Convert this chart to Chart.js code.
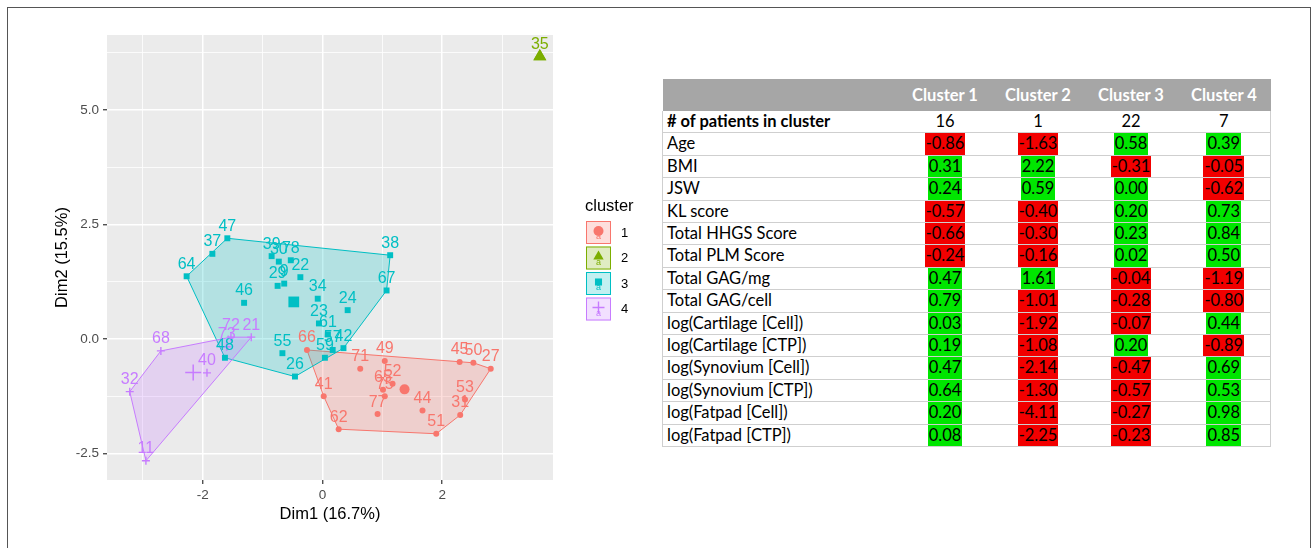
<!DOCTYPE html>
<html>
<head>
<meta charset="utf-8">
<script src="https://cdn.jsdelivr.net/npm/chart.js@4.4.1/dist/chart.umd.min.js"></script>
<style>
    body { margin: 0; background: #fff; width: 1315px; height: 548px; overflow: hidden; position: relative; }
    #frame { position: absolute; left: 7px; top: 7px; width: 1304px; height: 560px; border: 1px solid #555; box-sizing: border-box; }
    #plot { position: absolute; left: 0; top: 0; }
    #tbl { position: absolute; left: 662px; top: 79px; width: 608px; border-collapse: collapse; table-layout: fixed;
           font-family: Lato, 'Open Sans', sans-serif; font-size: 16.5px; color: #000; }
    #tbl th { background: #a6a6a6; color: #fff; font-weight: bold; height: 32px; padding: 0; text-align: center; }
    #tbl td { height: 21.4px; line-height: 21.4px; padding: 0; border-bottom: 1px solid #cfcfcf; text-align: center; white-space: nowrap; }
    #tbl td.name { text-align: left; padding-left: 4px; border-left: 1px solid #cfcfcf; }
    #tbl td.last { border-right: 1px solid #cfcfcf; }
    #tbl span { display: inline-block; line-height: 21.4px; padding: 0 1px; vertical-align: top; }
    #tbl span.neg { background: #f20000; }
    #tbl span.pos { background: #00e600; }
</style>
</head>
<body>
<div id="frame"></div>
<canvas id="plot" width="660" height="548"></canvas>
<table id="tbl"></table>
<script>
// clusters
var clusterNames = ['1', '2', '3', '4'];
var clusterColors = ['#F8766D', '#7CAE00', '#00BFC4', '#C77CFF'];
var clusterShapes = ['circle', 'triangle', 'rect', 'cross'];

// cluster 1
var ids1 = ['66', '71', '49', '45', '50', '27', '52', '65', '75', '77', '44', '51', '31', '53', '41', '62'];
var x1 = [-0.26, 0.63, 1.04, 2.29, 2.52, 2.81, 1.17, 1.01, 1.04, 0.92, 1.67, 1.90, 2.30, 2.38, 0.02, 0.27];
var y1 = [-0.24, -0.65, -0.48, -0.50, -0.52, -0.65, -0.98, -1.11, -1.25, -1.64, -1.56, -2.07, -1.66, -1.32, -1.25, -1.97];
// cluster 2
var ids2 = ['35'];
var x2 = [3.63];
var y2 = [6.17];
// cluster 3
var ids3 = ['47', '37', '64', '46', '39', '30', '78', '22', '29', '9', '34', '24', '23', '61', '42', '57', '59', '55', '26', '38', '67', '48'];
var x3 = [-1.59, -1.84, -2.27, -1.31, -0.85, -0.73, -0.53, -0.37, -0.75, -0.64, -0.08, 0.42, -0.06, 0.09, 0.35, 0.17, 0.04, -0.67, -0.46, 1.13, 1.07, -1.63];
var y3 = [2.20, 1.86, 1.37, 0.79, 1.81, 1.69, 1.72, 1.35, 1.16, 1.21, 0.88, 0.63, 0.34, 0.10, -0.20, -0.24, -0.41, -0.31, -0.82, 1.83, 1.06, -0.41];
// cluster 4
var ids4 = ['68', '32', '11', '40', '21', '72', '73'];
var x4 = [-2.70, -3.22, -2.95, -1.93, -1.19, -1.53, -1.60];
var y4 = [-0.26, -1.15, -2.66, -0.74, 0.04, 0.04, -0.17];

// cluster centers
var centerX = [1.37, 3.63, -0.48, -2.16];
var centerY = [-1.10, 6.17, 0.81, -0.73];

// axes
var xTicks = [-3, -2, -1, 0, 1, 2, 3];
var xTickLabels = ['', '-2', '', '0', '', '2', ''];
var yTicks = [-2.5, -1.25, 0, 1.25, 2.5, 3.75, 5, 6.25];
var yTickLabels = ['-2.5', '', '0.0', '', '2.5', '', '5.0', ''];

// table
var colNames = ['Cluster 1', 'Cluster 2', 'Cluster 3', 'Cluster 4'];
var patientCounts = [16, 1, 22, 7];
var rowNames = ['Age', 'BMI', 'JSW', 'KL score', 'Total HHGS Score', 'Total PLM Score', 'Total GAG/mg', 'Total GAG/cell',
    'log(Cartilage [Cell])', 'log(Cartilage [CTP])', 'log(Synovium [Cell])', 'log(Synovium [CTP])', 'log(Fatpad [Cell])', 'log(Fatpad [CTP])'];
var cl1 = [-0.86, 0.31, 0.24, -0.57, -0.66, -0.24, 0.47, 0.79, 0.03, 0.19, 0.47, 0.64, 0.20, 0.08];
var cl2 = [-1.63, 2.22, 0.59, -0.40, -0.30, -0.16, 1.61, -1.01, -1.92, -1.08, -2.14, -1.30, -4.11, -2.25];
var cl3 = [0.58, -0.31, 0.00, 0.20, 0.23, 0.02, -0.04, -0.28, -0.07, 0.20, -0.47, -0.57, -0.27, -0.23];
var cl4 = [0.39, -0.05, -0.62, 0.73, 0.84, 0.50, -1.19, -0.80, 0.44, -0.89, 0.69, 0.53, 0.98, 0.85];

var allIds = [ids1, ids2, ids3, ids4];
var allX = [x1, x2, x3, x4];
var allY = [y1, y2, y3, y4];
var pointSize = [3, 7.5, 4.2, 4];
var centerSize = [5, 7.5, 7.6, 8];

function alpha(hex, a) {
    var r = parseInt(hex.substr(1, 2), 16), g = parseInt(hex.substr(3, 2), 16), b = parseInt(hex.substr(5, 2), 16);
    return 'rgba(' + r + ',' + g + ',' + b + ',' + a + ')';
}

function hull(pts) {
    pts = pts.slice().sort(function (a, b) { return a.x - b.x || a.y - b.y; });
    function cross(o, a, b) { return (a.x - o.x) * (b.y - o.y) - (a.y - o.y) * (b.x - o.x); }
    var lower = [], upper = [];
    pts.forEach(function (p) {
        while (lower.length >= 2 && cross(lower[lower.length - 2], lower[lower.length - 1], p) <= 0) lower.pop();
        lower.push(p);
    });
    for (var i = pts.length - 1; i >= 0; i--) {
        var p = pts[i];
        while (upper.length >= 2 && cross(upper[upper.length - 2], upper[upper.length - 1], p) <= 0) upper.pop();
        upper.push(p);
    }
    upper.pop(); lower.pop();
    return lower.concat(upper);
}

var datasets = [];
clusterNames.forEach(function (name, c) {
    var data = allX[c].map(function (v, i) { return { x: v, y: allY[c][i] }; });
    datasets.push({
        label: name,
        data: data,
        pointStyle: clusterShapes[c],
        pointRadius: pointSize[c],
        backgroundColor: clusterColors[c],
        borderColor: clusterColors[c],
        borderWidth: clusterShapes[c] === 'cross' ? 1.4 : 0
    });
});
clusterNames.forEach(function (name, c) {
    datasets.push({
        label: 'center ' + name,
        data: [{ x: centerX[c], y: centerY[c] }],
        pointStyle: clusterShapes[c],
        pointRadius: centerSize[c],
        backgroundColor: clusterColors[c],
        borderColor: clusterColors[c],
        borderWidth: clusterShapes[c] === 'cross' ? 1.5 : 0
    });
});

//! grey panel
var panelBg = {
    id: 'panelBg',
    beforeDraw: function (chart) {
        var a = chart.chartArea, ctx = chart.ctx;
        ctx.save();
        ctx.fillStyle = '#ebebeb';
        ctx.fillRect(a.left, a.top, a.right - a.left, a.bottom - a.top);
        ctx.restore();
    }
};

//! convex hull for each cluster
var hulls = {
    id: 'hulls',
    beforeDatasetsDraw: function (chart) {
        var ctx = chart.ctx, xs = chart.scales.x, ys = chart.scales.y;
        ctx.save();
        clusterNames.forEach(function (name, c) {
            if (allX[c].length < 3) return;
            var pts = allX[c].map(function (v, i) {
                return { x: xs.getPixelForValue(v), y: ys.getPixelForValue(allY[c][i]) };
            });
            var h = hull(pts);
            ctx.beginPath();
            h.forEach(function (p, i) { if (i === 0) ctx.moveTo(p.x, p.y); else ctx.lineTo(p.x, p.y); });
            ctx.closePath();
            ctx.fillStyle = alpha(clusterColors[c], 0.24);
            ctx.fill();
            ctx.strokeStyle = clusterColors[c];
            ctx.lineWidth = 1;
            ctx.stroke();
        });
        ctx.restore();
    }
};

//! point labels
var pointLabels = {
    id: 'pointLabels',
    afterDatasetsDraw: function (chart) {
        var ctx = chart.ctx, xs = chart.scales.x, ys = chart.scales.y;
        ctx.save();
        ctx.font = '16px "Liberation Sans", Arial, sans-serif';
        ctx.textAlign = 'center';
        ctx.textBaseline = 'alphabetic';
        clusterNames.forEach(function (name, c) {
            ctx.fillStyle = clusterColors[c];
            allIds[c].forEach(function (id, i) {
                ctx.fillText(id, xs.getPixelForValue(allX[c][i]), ys.getPixelForValue(allY[c][i]) - 7.5);
            });
        });
        ctx.restore();
    }
};

//! legend like ggplot
var ggLegend = {
    id: 'ggLegend',
    afterDraw: function (chart) {
        var ctx = chart.ctx, a = chart.chartArea;
        var left = a.right + 33, top = 221;
        ctx.save();
        ctx.fillStyle = '#000';
        ctx.font = '16.5px "Liberation Sans", Arial, sans-serif';
        ctx.textBaseline = 'middle';
        ctx.textAlign = 'left';
        ctx.fillText('cluster', left - 1, 206);
        clusterNames.forEach(function (name, c) {
            var y = top + c * 25.5;
            ctx.fillStyle = alpha(clusterColors[c], 0.24);
            ctx.fillRect(left, y, 25, 23);
            ctx.strokeStyle = clusterColors[c];
            ctx.lineWidth = 1;
            ctx.strokeRect(left + 0.5, y + 0.5, 24, 22);
            ctx.fillStyle = clusterColors[c];
            ctx.strokeStyle = clusterColors[c];
            ctx.lineWidth = 1.4;
            Chart.helpers.drawPoint(ctx, {
                pointStyle: clusterShapes[c], radius: c === 1 ? 6 : (c === 3 ? 6 : 5), rotation: 0,
                borderWidth: clusterShapes[c] === 'cross' ? 1.4 : 0
            }, left + 12.5, y + 10);
            ctx.font = '9px "Liberation Sans", Arial, sans-serif';
            ctx.textAlign = 'center';
            ctx.fillText('a', left + 12.5, y + 16);
            ctx.fillStyle = '#000';
            ctx.font = '13px "Liberation Sans", Arial, sans-serif';
            ctx.textAlign = 'left';
            ctx.fillText(name, left + 35, y + 12);
        });
        ctx.restore();
    }
};

function majorX(ctx) { return xTickLabels[ctx.index] !== ''; }
function majorY(ctx) { return yTickLabels[ctx.index] !== ''; }

var plot = document.getElementById('plot').getContext('2d');
var plotChart = new Chart(plot, {
    type: 'scatter',
    data: { datasets: datasets },
    plugins: [panelBg, hulls, pointLabels, ggLegend],
    options: {
        responsive: false,
        animation: false,
        events: [],
        layout: { padding: { top: 35, right: 107, bottom: 20, left: 49 } },
        plugins: { legend: { display: false }, tooltip: { enabled: false } },
        scales: {
            x: {
                type: 'linear',
                min: -3.6,
                max: 3.85,
                afterBuildTicks: function (scale) { scale.ticks = xTicks.map(function (v) { return { value: v }; }); },
                afterFit: function (scale) { scale.height = 48; },
                border: { display: false },
                grid: {
                    color: '#ffffff',
                    lineWidth: function (ctx) { return majorX(ctx) ? 1.5 : 0.8; },
                    tickColor: function (ctx) { return majorX(ctx) ? '#333333' : 'rgba(0,0,0,0)'; },
                    tickLength: 4,
                    tickWidth: 1.2
                },
                ticks: {
                    autoSkip: false,
                    maxRotation: 0,
                    padding: 3,
                    color: '#4d4d4d',
                    font: { family: '"Liberation Sans", Arial, sans-serif', size: 13.5 },
                    callback: function (v, i) { return xTickLabels[i]; }
                },
                title: {
                    display: true,
                    text: 'Dim1 (16.7%)',
                    color: '#000',
                    padding: { top: 4, bottom: 4 },
                    font: { family: '"Liberation Sans", Arial, sans-serif', size: 16.5 }
                }
            },
            y: {
                type: 'linear',
                min: -3.08,
                max: 6.64,
                afterBuildTicks: function (scale) { scale.ticks = yTicks.map(function (v) { return { value: v }; }); },
                afterFit: function (scale) { scale.width = 58; },
                border: { display: false },
                grid: {
                    color: '#ffffff',
                    lineWidth: function (ctx) { return majorY(ctx) ? 1.5 : 0.8; },
                    tickColor: function (ctx) { return majorY(ctx) ? '#333333' : 'rgba(0,0,0,0)'; },
                    tickLength: 4,
                    tickWidth: 1.2
                },
                ticks: {
                    autoSkip: false,
                    padding: 4,
                    color: '#4d4d4d',
                    font: { family: '"Liberation Sans", Arial, sans-serif', size: 13.5 },
                    callback: function (v, i) { return yTickLabels[i]; }
                },
                title: {
                    display: true,
                    text: 'Dim2 (15.5%)',
                    color: '#000',
                    padding: { top: 4, bottom: 4 },
                    font: { family: '"Liberation Sans", Arial, sans-serif', size: 16.5 }
                }
            }
        }
    }
});

//! table
var tbl = document.getElementById('tbl');
var html = '<colgroup><col style="width:236px"><col style="width:93px"><col style="width:93px"><col style="width:93px"><col style="width:93px"></colgroup>';
html += '<tr><th></th>' + colNames.map(function (n) { return '<th>' + n + '</th>'; }).join('') + '</tr>';
html += '<tr><td class="name"><b># of patients in cluster</b></td>' + patientCounts.map(function (n, i) {
    return '<td' + (i === 3 ? ' class="last"' : '') + '>' + n + '</td>';
}).join('') + '</tr>';
var cols = [cl1, cl2, cl3, cl4];
rowNames.forEach(function (r, i) {
    html += '<tr><td class="name">' + r + '</td>';
    cols.forEach(function (col, j) {
        var v = col[i];
        html += '<td' + (j === 3 ? ' class="last"' : '') + '><span class="' + (v < 0 ? 'neg' : 'pos') + '">' + v.toFixed(2) + '</span></td>';
    });
    html += '</tr>';
});
tbl.innerHTML = html;
</script>
</body>
</html>
